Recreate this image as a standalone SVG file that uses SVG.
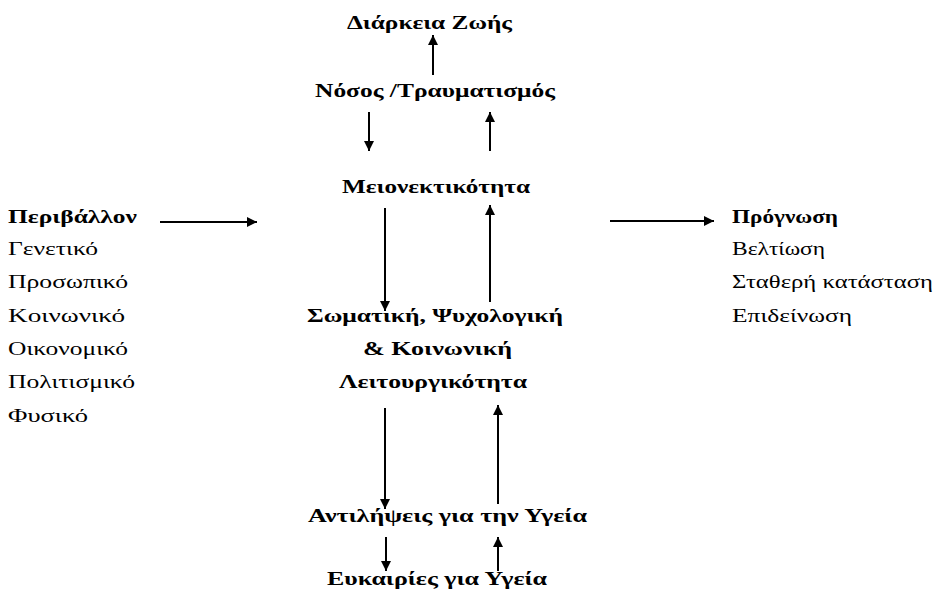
<svg xmlns="http://www.w3.org/2000/svg" width="939" height="590" viewBox="0 0 939 590">
<defs>
<marker id="ah" viewBox="0 0 10 10" refX="10" refY="5" markerWidth="10" markerHeight="10" markerUnits="userSpaceOnUse" orient="auto">
<path d="M0,0 L10,5 L0,10 z" fill="#000"/>
</marker>
<style>
text{font-family:"Liberation Serif","Times New Roman",serif;font-size:19px;fill:#000}
.b{font-weight:bold}
.ln{stroke:#000;stroke-width:2;fill:none;marker-end:url(#ah)}
</style>
</defs>
<rect width="939" height="590" fill="#fff"/>
<g id="connectors">
<line class="ln" x1="433" y1="75" x2="433" y2="35"/>
<line class="ln" x1="369" y1="112" x2="369" y2="151"/>
<line class="ln" x1="490" y1="151" x2="490" y2="112"/>
<line class="ln" x1="385" y1="208" x2="385" y2="311"/>
<line class="ln" x1="490" y1="302" x2="490" y2="205"/>
<line class="ln" x1="160" y1="222" x2="257" y2="222"/>
<line class="ln" x1="610" y1="221" x2="714" y2="221"/>
<line class="ln" x1="385" y1="408" x2="385" y2="509"/>
<line class="ln" x1="498" y1="504" x2="498" y2="405"/>
<line class="ln" x1="386" y1="537" x2="386" y2="571"/>
<line class="ln" x1="498" y1="571" x2="498" y2="537"/>
</g>
<g id="n-diarkeia"><text class="b" x="347" y="29" textLength="165" lengthAdjust="spacingAndGlyphs">Διάρκεια Ζωής</text></g>
<g id="n-nosos"><text class="b" x="315" y="97" textLength="240" lengthAdjust="spacingAndGlyphs">Νόσος /Τραυματισμός</text></g>
<g id="n-meionektikotita"><text class="b" x="342" y="193" textLength="188" lengthAdjust="spacingAndGlyphs">Μειονεκτικότητα</text></g>
<g id="n-perivallon">
<text class="b" x="8" y="223" textLength="129" lengthAdjust="spacingAndGlyphs">Περιβάλλον</text>
<text x="8" y="255" textLength="90" lengthAdjust="spacingAndGlyphs">Γενετικό</text>
<text x="8" y="288" textLength="120" lengthAdjust="spacingAndGlyphs">Προσωπικό</text>
<text x="8" y="322" textLength="117" lengthAdjust="spacingAndGlyphs">Κοινωνικό</text>
<text x="8" y="355" textLength="120" lengthAdjust="spacingAndGlyphs">Οικονομικό</text>
<text x="8" y="388" textLength="127" lengthAdjust="spacingAndGlyphs">Πολιτισμικό</text>
<text x="8" y="422" textLength="80" lengthAdjust="spacingAndGlyphs">Φυσικό</text>
</g>
<g id="n-prognosi">
<text class="b" x="732" y="223" textLength="106" lengthAdjust="spacingAndGlyphs">Πρόγνωση</text>
<text x="732" y="255" textLength="93" lengthAdjust="spacingAndGlyphs">Βελτίωση</text>
<text x="732" y="288" textLength="201" lengthAdjust="spacingAndGlyphs">Σταθερή κατάσταση</text>
<text x="732" y="322" textLength="120" lengthAdjust="spacingAndGlyphs">Επιδείνωση</text>
</g>
<g id="n-leitourgikotita">
<text class="b" x="307" y="322" textLength="256" lengthAdjust="spacingAndGlyphs">Σωματική, Ψυχολογική</text>
<text class="b" x="363" y="355" textLength="149" lengthAdjust="spacingAndGlyphs">&amp; Κοινωνική</text>
<text class="b" x="339" y="388" textLength="188" lengthAdjust="spacingAndGlyphs">Λειτουργικότητα</text>
</g>
<g id="n-antilipseis"><text class="b" x="308" y="522" textLength="279" lengthAdjust="spacingAndGlyphs">Αντιλήψεις για την Υγεία</text></g>
<g id="n-eukairies"><text class="b" x="327" y="585" textLength="220" lengthAdjust="spacingAndGlyphs">Ευκαιρίες για Υγεία</text></g>
</svg>
